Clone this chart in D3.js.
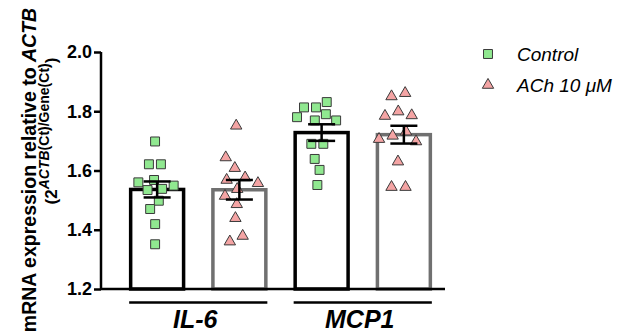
<!DOCTYPE html>
<html>
<head>
<meta charset="utf-8">
<script src="https://cdn.jsdelivr.net/npm/d3@7"></script>
<style>
  body { margin: 0; background: #fff; }
  svg { display: block; font-family: "Liberation Sans", Arial, sans-serif; }
</style>
</head>
<body>
<div id="chart"></div>
<script>
// values
const genes = ['IL-6', 'MCP1'];
const groups = ['Control', 'ACh 10 μM'];
const means = [1.536, 1.535, 1.728, 1.721];
const sems = [0.027, 0.033, 0.028, 0.030];
const il6Control = [1.698, 1.621, 1.621, 1.568, 1.560, 1.549, 1.538, 1.534, 1.498, 1.470, 1.419, 1.351];
const il6Ach = [1.751, 1.644, 1.608, 1.576, 1.568, 1.557, 1.537, 1.514, 1.486, 1.439, 1.379, 1.360];
const mcp1Control = [1.831, 1.813, 1.813, 1.790, 1.780, 1.769, 1.769, 1.690, 1.690, 1.639, 1.602, 1.551];
const mcp1Ach = [1.861, 1.850, 1.799, 1.786, 1.784, 1.731, 1.717, 1.706, 1.698, 1.630, 1.544, 1.544];
const yTicks = [1.2, 1.4, 1.6, 1.8, 2.0];

const points = [il6Control, il6Ach, mcp1Control, mcp1Ach];

const width = 628, height = 335;
const colors = { Control: '#000', 'ACh 10 μM': '#707070' };
const fills = { Control: '#90e890', 'ACh 10 μM': '#f4a4a4' };

const svg = d3.select('#chart').append('svg')
    .attr('width', width)
    .attr('height', height);

const x = d3.scaleBand()
    .domain(d3.range(4))
    .range([116, 445])
    .paddingInner(0.32)
    .paddingOuter(0.16);

const y = d3.scaleLinear()
    .domain([1.2, 2.0])
    .range([289, 52]);

const groupOf = i => groups[i % 2];

// bars
svg.append('g')
  .selectAll('rect')
  .data(means)
  .join('rect')
    .attr('x', (d, i) => x(i) + 1.5)
    .attr('y', d => y(d))
    .attr('width', x.bandwidth() - 3)
    .attr('height', d => y(1.2) - y(d))
    .attr('fill', '#fff')
    .attr('stroke', (d, i) => colors[groupOf(i)])
    .attr('stroke-width', 3.5);

// scatter points, spread out like a beeswarm
const square = d3.symbol().type(d3.symbolSquare).size(80);
const tri = d3.symbol().type(d3.symbolTriangle).size(56);

points.forEach((vals, i) => {
  const cx = x(i) + x.bandwidth() / 2;
  const nodes = vals.map(v => ({ fy: y(v), v: v }));
  const sim = d3.forceSimulation(nodes)
      .force('x', d3.forceX(cx).strength(0.06))
      .force('collide', d3.forceCollide(i % 2 ? 7 : 6))
      .stop();
  for (let k = 0; k < 300; k++) sim.tick();

  svg.append('g')
    .selectAll('path')
    .data(nodes)
    .join('path')
      .attr('transform', d => `translate(${d.x},${d.fy})`)
      .attr('d', i % 2 ? tri() : square())
      .attr('fill', fills[groupOf(i)])
      .attr('stroke', '#3a3a3a')
      .attr('stroke-width', 1);
});

// error bars
const eb = svg.append('g').attr('stroke', '#000').attr('stroke-width', 2.5);
means.forEach((m, i) => {
  const cx = x(i) + x.bandwidth() / 2;
  eb.append('line').attr('x1', cx).attr('x2', cx).attr('y1', y(m + sems[i])).attr('y2', y(m - sems[i]));
  eb.append('line').attr('x1', cx - 13.5).attr('x2', cx + 13.5).attr('y1', y(m + sems[i])).attr('y2', y(m + sems[i]));
  eb.append('line').attr('x1', cx - 13.5).attr('x2', cx + 13.5).attr('y1', y(m - sems[i])).attr('y2', y(m - sems[i]));
});

// y axis
const yAxis = svg.append('g')
    .attr('transform', 'translate(101,0)')
    .call(d3.axisLeft(y).tickValues(yTicks).tickFormat(d3.format('.1f')).tickSize(7).tickPadding(2));
yAxis.select('.domain').attr('stroke-width', 2.5).attr('d', `M0,${y(2.0)}V${y(1.2)}`);
yAxis.selectAll('.tick line').attr('stroke-width', 2.5);
yAxis.selectAll('.tick text')
    .attr('font-size', 18)
    .attr('font-weight', 'bold')
    .attr('font-family', '"Liberation Sans", Arial, sans-serif')
    .attr('fill', '#000');

// x axis line
svg.append('line')
    .attr('x1', 101).attr('x2', x.range()[1])
    .attr('y1', y(1.2)).attr('y2', y(1.2))
    .attr('stroke', '#000').attr('stroke-width', 2.5);

// gene labels with lines underneath the axis
genes.forEach((g, gi) => {
  const x0 = x(gi * 2), x1 = x(gi * 2 + 1) + x.bandwidth();
  svg.append('line')
      .attr('x1', x0).attr('x2', x1)
      .attr('y1', 302.5).attr('y2', 302.5)
      .attr('stroke', '#000').attr('stroke-width', 2.5);
  svg.append('text')
      .attr('x', (x0 + x1) / 2 - 3)
      .attr('y', 328)
      .attr('text-anchor', 'middle')
      .attr('font-size', 25)
      .attr('font-weight', 'bold')
      .attr('font-style', 'italic')
      .text(g);
});

// y title
const t1 = svg.append('text')
    .attr('transform', 'translate(36,170) rotate(-90)')
    .attr('text-anchor', 'middle')
    .attr('font-size', 19.5)
    .attr('font-weight', 'bold');
t1.append('tspan').text('mRNA expression relative to ');
t1.append('tspan').attr('font-style', 'italic').text('ACTB');

const t2 = svg.append('text')
    .attr('transform', 'translate(57,131) rotate(-90)')
    .attr('text-anchor', 'middle')
    .attr('font-size', 17)
    .attr('font-weight', 'bold');
t2.append('tspan').text('(2');
t2.append('tspan').attr('font-size', 14).attr('dy', -8).attr('font-style', 'italic').text('ACTB');
t2.append('tspan').attr('font-size', 14).text('(Ct)/Gene(Ct)');
t2.append('tspan').attr('dy', 8).text(')');

// legend
const legend = svg.append('g');
groups.forEach((g, i) => {
  const ly = 54 + i * 31;
  legend.append('path')
      .attr('transform', `translate(488,${ly})`)
      .attr('d', i ? tri() : square())
      .attr('fill', fills[g])
      .attr('stroke', '#3a3a3a')
      .attr('stroke-width', 1);
  legend.append('text')
      .attr('x', 517)
      .attr('y', ly + 7)
      .attr('font-size', 19)
      .attr('font-style', 'italic')
      .text(g);
});
</script>
</body>
</html>
